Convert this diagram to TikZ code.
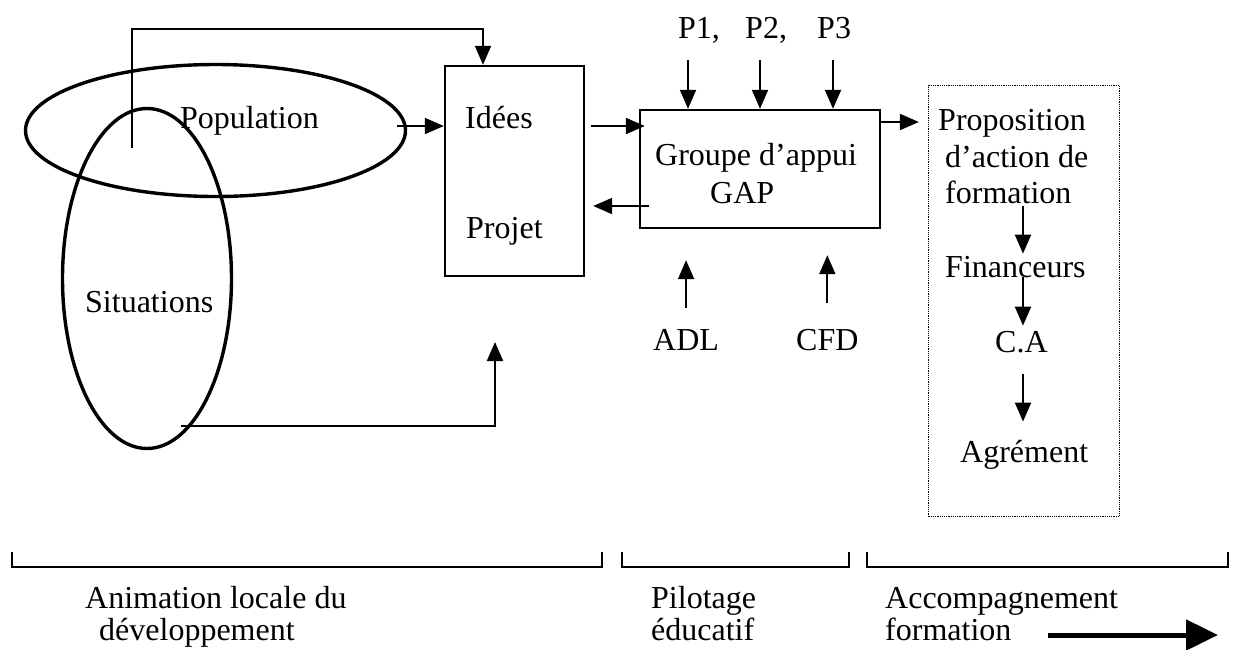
\documentclass[tikz,border=0pt]{standalone}
\usepackage{fontspec}
\setmainfont{Liberation Serif}
\usetikzlibrary{arrows.meta,positioning,shapes.geometric}

\tikzset{
  arr/.style={-{Triangle[length=19pt,width=16pt]},line width=2pt},
  lbl/.style={anchor=base west,inner sep=0pt},
  bloc/.style={rectangle,draw,line width=2.4pt,inner sep=0pt},
  bulle/.style={ellipse,draw,line width=3.4pt,inner sep=0pt},
  bracket/.style={line width=2.6pt}
}

\begin{document}
\begin{tikzpicture}[x=1pt,y=-1pt,font=\fontsize{32}{38}\selectfont]
        \useasboundingbox (0,0) rectangle (1237,649);
        \node (popell) at (215.5,130.5) [bulle,minimum width=380pt,minimum height=132pt] {};
        \node (sitell) at (147,278.5) [bulle,minimum width=169pt,minimum height=340pt] {};
        \node (poptxt) at (180,128) [lbl] {Population};
        \node (sittxt) at (85,312) [lbl] {Situations};
        \node (idees) at (514.5,171) [bloc,minimum width=139pt,minimum height=210pt] {};
        \node (idtxt) at (465,128) [lbl] {Idées};
        \node (prtxt) at (466,238) [lbl] {Projet};
        \node (gap) at (760,169) [bloc,minimum width=240pt,minimum height=118pt] {};
        \node (gaptxt) at (655,165) [lbl] {Groupe d’appui};
        \node (gapsig) at (710,203) [lbl] {GAP};
        \node (p1) at (678,38) [lbl] {P1,};
        \node (p2) at (745,38) [lbl] {P2,};
        \node (p3) at (817,38) [lbl] {P3};
        \node (adl) at (653,350) [lbl] {ADL};
        \node (cfd) at (796,350) [lbl] {CFD};
        \node (propbox) at (1024,301) [draw,densely dotted,line width=1.2pt,minimum width=191pt,minimum height=431pt,inner sep=0pt] {};
        \node (prop1) at (938,130) [lbl] {Proposition};
        \node (prop2) at (945,167) [lbl] {d’action de};
        \node (prop3) at (945,203) [lbl] {formation};
        \node (fin) at (945,277) [lbl] {Financeurs};
        \node (ca) at (995,352) [lbl] {C.A};
        \node (agr) at (960,462) [lbl] {Agrément};
        % connecteurs
        \coordinate (src) at (132,148);
        \coordinate (topc) at (483,29);
        \draw[arr] (src) |- (topc) -- (topc |- idees.north);
        \coordinate (popo) at (397,126);
        \draw[arr] (popo) -- (popo -| idees.west);
        \coordinate (sito) at (181,426);
        \coordinate (idin) at (495,342);
        \draw[arr] (sito) -| (idin);
        \coordinate (ids) at (591,126);
        \draw[arr,shorten >=-6pt] (ids) -- (ids -| gap.west);
        \coordinate (gaps) at (649,206);
        \draw[arr,shorten >=8pt] (gaps) -- (gaps -| idees.east);
        \coordinate (gapo) at (881,122);
        \draw[arr,shorten >=9pt] (gapo) -- (gapo -| propbox.west);
        \foreach \x/\n in {688/p1s,760/p2s,833/p3s} {
          \coordinate (\n) at (\x,60);
          \draw[arr] (\n) -- (\n |- gap.north);
        }
        \draw[arr,shorten <=21pt,shorten >=31pt] (adl.north) -- (adl.north |- gap.south);
        \draw[arr,shorten <=26pt,shorten >=26pt] (cfd.north) -- (cfd.north |- gap.south);
        \coordinate (axis) at (1023,0);
        \draw[arr,shorten <=2pt,shorten >=2pt] (prop3.south -| axis) -- (fin.north -| axis);
        \draw[arr,shorten >=5pt] (fin.base -| axis) -- (ca.north -| axis);
        \draw[arr,shorten <=21pt,shorten >=18pt] (ca.south -| axis) -- (agr.north -| axis);
        % phases
        \foreach \a/\b in {12/602,622/849,867/1228}
          \draw[bracket] (\a,552) -- (\a,567) -- (\b,567) -- (\b,552);
        \node (anim1) at (85,608) [lbl] {Animation locale du};
        \node (anim2) at (99,640) [lbl] {développement};
        \node (pil1) at (651,608) [lbl] {Pilotage};
        \node (pil2) at (651,640) [lbl] {éducatif};
        \node (acc1) at (885,608) [lbl] {Accompagnement};
        \node (acc2) at (885,640) [lbl] {formation};
        \coordinate (tl0) at (1048,635);
        \coordinate (tl1) at (1218,635);
        \draw[-{Triangle[length=32pt,width=30pt]},line width=5pt] (tl0) -- (tl1);
\end{tikzpicture}
\end{document}
